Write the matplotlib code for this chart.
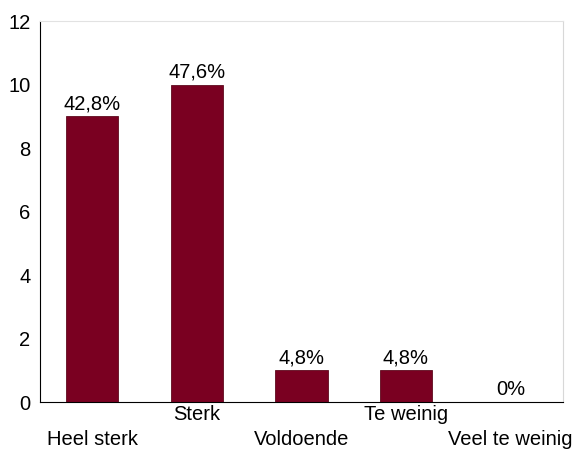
import matplotlib.pyplot as plt

categorieen = ["Heel sterk", "Sterk", "Voldoende", "Te weinig", "Veel te weinig"]
aantallen = [9, 10, 1, 1, 0]
percentages = ["42,8%", "47,6%", "4,8%", "4,8%", "0%"]

plt.rcParams['font.family'] = ['Liberation Sans', 'DejaVu Sans']

fig = plt.figure(figsize=(5.76, 4.51), dpi=100)
ax = fig.add_axes([0.0694, 0.1086, 0.9076, 0.8448])

x = range(len(categorieen))
bars = ax.bar(x, aantallen, width=0.5, color='#7a0021', edgecolor='#5e0a1e', linewidth=0.6)

# percentages boven de staven
for xi, h, p in zip(x, aantallen, percentages):
    ax.text(xi, h + 0.1, p, ha='center', va='bottom', fontsize=14.5)

ax.set_xlim(-0.5, 4.5)
ax.set_ylim(0, 12)
ax.set_yticks([0, 2, 4, 6, 8, 10, 12])
ax.set_xticks(list(x))
# labels om en om lager zetten
labels = [("\n" + c) if i % 2 == 0 else c for i, c in enumerate(categorieen)]
ax.set_xticklabels(labels, fontsize=14.5, linespacing=1.42)
ax.tick_params(axis='y', length=0, labelsize=14.5, pad=7)
ax.tick_params(axis='x', length=0, pad=2)

ax.spines['left'].set_color('black')
ax.spines['bottom'].set_color('black')
ax.spines['top'].set_color('#e2e2e2')
ax.spines['right'].set_color('#d8d8d8')

fig.savefig('out.png', dpi=100)
